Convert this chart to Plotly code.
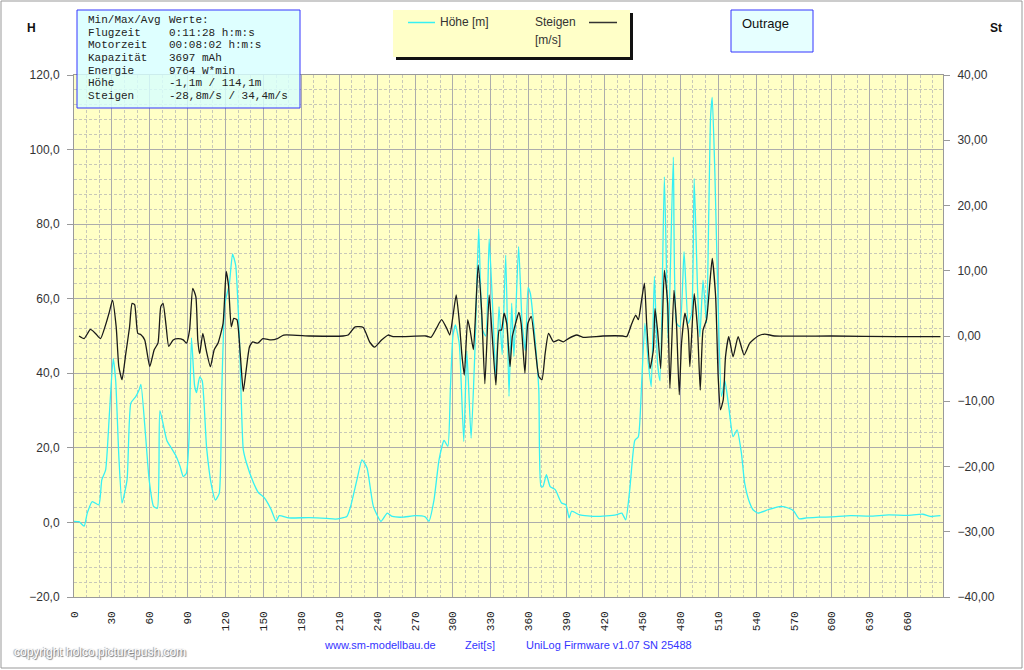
import plotly.graph_objects as go

# ---------------- data ----------------
hoehe_t = [0, 4, 8, 10.5, 14.5, 19.7, 22, 25, 28, 31, 33, 35.5, 38, 42, 45, 49, 51.5, 53, 56.5, 59.5,
           63, 66, 68, 73.5, 77, 80.5, 84, 86.5, 89, 91, 93, 95.5, 97, 99.5, 101.5, 105, 109, 112, 115, 117,
           119.5, 123, 125.5, 128, 131, 134, 136.5, 142, 146, 149.5, 152, 156, 160, 162.5, 170, 186, 200, 207,
           216, 219, 224, 228, 232, 237, 243, 248, 252, 260, 270, 278, 281, 285, 289, 293, 296, 298, 300, 302,
           305, 308.6, 311, 314.4, 317.5, 320.4, 323.5, 326, 328.7, 331.3, 334, 336.5, 339, 341.8, 344.4, 346.5,
           348.3, 352, 354.8, 357.4, 359.5, 361.3, 365.3, 368, 369.7, 371.3, 374, 377, 381, 386, 389.5, 392, 394,
           400.5, 413.5, 429, 433.7, 436.8, 440, 444, 446.8, 449.5, 452, 454.7, 457, 459.5, 462, 464, 467.4,
           470.5, 474.5, 477, 479.7, 483, 486.3, 489, 491, 493.7, 495.5, 498, 500.8, 502.6, 504, 505.3, 507.4,
           510, 512.6, 515.3, 518.4, 521.8, 525, 528.4, 531, 535, 537.6, 541.6, 549.5, 559.5, 566, 570, 574,
           580, 590, 600, 615, 630, 645, 660, 672, 678, 686]
hoehe_v = [0.3, 0.2, -1.0, 2.5, 5.6, 4.7, 11.4, 14, 29, 44, 38, 17.7, 5.2, 11.4, 32, 33.8, 35.5, 37, 24, 11.4,
           4.3, 3.8, 30, 22, 20, 18, 15, 12.3, 13.2, 22, 49.5, 36.6, 34.8, 39, 38, 20, 9.6, 6, 7.8, 35.5,
           58.7, 64, 72, 69, 49, 19.6, 16, 10.7, 8, 7, 6, 3.5, 0.3, 1.8, 1.2, 1.3, 1.1, 0.9,
           1.6, 4.3, 11.4, 16.8, 14.6, 4.3, 0.3, 2.5, 1.6, 1.4, 1.8, 1.5, 0.3, 6, 16.8, 22, 20.4, 36, 50, 53,
           48, 21.7, 46, 22.6, 47, 78.8, 51.6, 50, 76, 58.8, 39, 57.9, 45, 71.7, 33.8, 58.8,
           44.5, 74, 53.4, 46, 63, 61.4, 48, 35.5, 9.6, 9.6, 12.8, 9.6, 8.8, 5.2, 4.7, 1.2, 3,
           2, 1.6, 2, 2.5, 0.7, 8.8, 22, 23, 38, 53.4, 42.7, 36.4, 66, 42.7, 38, 92.7,
           48, 98, 53.4, 52.5, 72.6, 53.4, 56, 92.2, 62.3, 49.8, 65, 53.4, 83.8, 108.8, 114, 93.6,
           57.9, 33.8, 38, 31, 23, 24.8, 18.6, 10.5, 5.2, 3.4, 2.5, 3.4, 4.3, 3.8, 3.0, 1.0,
           1.2, 1.4, 1.5, 1.8, 1.7, 2.0, 1.9, 2.2, 1.6, 1.8]

steigen_t = [4, 8, 13, 17, 21, 25, 28, 30.5, 33.4, 35.5, 38, 41, 44, 46, 48, 50.5, 53, 56, 60, 63.5, 66.5,
             68.7, 70.5, 73, 75, 78.5, 82.5, 86.5, 89, 91.5, 94, 96.5, 98, 99.5, 102, 104.6, 108, 111, 114,
             118, 120.5, 122.4, 124.5, 126.5, 129, 131.6, 134, 136, 139, 141.5, 145.5, 149.5, 156, 161, 166,
             187, 213, 217, 222.6, 229, 234, 238, 243.5, 248.7, 252.6, 278.7, 282.6, 287, 291, 295, 297.5,
             300, 302.6, 305.2, 307, 309, 311.7, 313.6, 316.2, 318.3, 320, 322.7, 325.3, 328.7, 330.8, 334,
             336.6, 338.4, 340.5, 342.6, 345.2, 347, 349.6, 352.2, 354, 357, 359.3, 362, 365.3, 368, 370.5,
             373, 375.7, 379.6, 383.6, 387.5, 391.4, 398, 403, 418.8, 434.5, 437.6, 441.6, 444.7, 446.8, 449,
             451.6, 453.4, 456, 458.7, 460, 462, 464.5, 467.4, 470, 471.8, 475, 477, 479.2, 481, 483.7, 486.3,
             487.6, 491, 493.7, 495.8, 498, 500.8, 503.4, 505.3, 508, 510, 511.8, 514, 515.8, 518.4, 521.8,
             525.8, 530.5, 535, 541.6, 546.8, 554.7, 600, 650, 686]
steigen_v = [0.0, -0.4, 1.0, 0.4, -0.4, 1.7, 3.7, 5.5, 1.4, -4.7, -6.7, -2.7, 1.4, 5, 4.8, 0.4, 0.2, -0.6, -4.7, -2.1, -1.1,
             4.5, 5, 1.4, -1.6, -0.6, -0.4, -0.6, -1.1, 0.9, 7.3, 6, -0.6, -2.7, 0.4, -2.1, -4.7, -2.1, -1.1,
             1.9, 9.9, 7.6, 1.4, 2.7, 2.5, -2.7, -8.5, -5.7, -1.6, -0.9, -1.1, -0.4, -0.6, -0.4, 0.15,
             0, 0, 0.15, 1.4, 1.3, -0.9, -1.7, -0.6, 0.15, -0.1, 0, -0.2, 1.2, 2.5, 1.2, 0.15,
             3, 6.3, 1.9, -2.7, -6, 2.5, 0.9, -2.1, 5, 10.9, 4, -7.3, 6.3, 0.9, -7.5,
             0.9, 0.9, 3.5, 1.9, -4.7, -0.1, 1.9, 3.6, 1.9, -5.7, 1.9, 3, -2.1, -6.2, -6.7,
             -2.7, 0.4, -0.9, -0.6, -0.9, -0.4, 0.15, -0.2, 0, 0, -0.1, 1.9, 3.2, 2.5, 5,
             8.1, 1.9, -5, -2.1, 4.2, 0.9, -5, 10.1, 5, -8, 7, 1.9, -9, -1.1, 3.5, 0.9,
             -4.7, 6.5, 0.9, -8.3, 0.9, 2.5, 8.1, 11.9, 6, -6.2, -11.3, -9.8, -3.2, -0.1, -3.2,
             -0.1, -2.9, -1.1, 0, 0.3, 0, 0, -0.1, -0.1]

x_ticks = list(range(0, 661, 30))

info_labels = ["Min/Max/Avg", "Flugzeit", "Motorzeit", "Kapazität", "Energie", "Höhe", "Steigen"]
info_values = ["Werte:", "0:11:28 h:m:s", "00:08:02 h:m:s", "3697 mAh", "9764 W*min",
               "-1,1m / 114,1m", "-28,8m/s / 34,4m/s"]

# ---------------- layout helpers ----------------
L, R, T, B = 74, 943, 75, 597
W, HH = R - L, B - T


def px(x):
    return (x - L) / W


def py(y):
    return (B - y) / HH


fig = go.Figure()
fig.add_trace(go.Scatter(x=hoehe_t, y=hoehe_v, mode="lines", name="Höhe [m]",
                         line=dict(color="#36F0F4", width=1.3, shape="spline", smoothing=0.5),
                         yaxis="y", showlegend=False, hoverinfo="skip"))
fig.add_trace(go.Scatter(x=steigen_t, y=steigen_v, mode="lines", name="Steigen [m/s]",
                         line=dict(color="#1a1a1a", width=1.3, shape="spline", smoothing=0.5),
                         yaxis="y2", showlegend=False, hoverinfo="skip"))

shapes = []
annotations = []

# outer border
shapes.append(dict(type="rect", xref="paper", yref="paper", x0=px(1), x1=px(1022), y0=py(1), y1=py(668),
                   line=dict(color="#999999", width=1), layer="below"))

# info box
shapes.append(dict(type="rect", xref="paper", yref="paper", x0=px(77), x1=px(300), y0=py(10), y1=py(108),
                   fillcolor="rgba(215,255,255,0.82)", line=dict(color="#3535ff", width=1), layer="above"))
line_y = [20, 32.7, 45.3, 58, 70.5, 83, 95.7]
mono = dict(family="Liberation Mono, Courier New, monospace", size=11, color="#222")
for lab, val, yy in zip(info_labels, info_values, line_y):
    annotations.append(dict(xref="paper", yref="paper", x=px(86), y=py(yy), text=lab, showarrow=False,
                            xanchor="left", yanchor="middle", font=mono))
    annotations.append(dict(xref="paper", yref="paper", x=px(167), y=py(yy), text=val, showarrow=False,
                            xanchor="left", yanchor="middle", font=mono))

# legend box
shapes.append(dict(type="rect", xref="paper", yref="paper", x0=px(396), x1=px(633), y0=py(13), y1=py(60),
                   fillcolor="#111111", line=dict(width=0), layer="above"))
shapes.append(dict(type="rect", xref="paper", yref="paper", x0=px(393), x1=px(630), y0=py(10), y1=py(57),
                   fillcolor="#FFFFC8", line=dict(width=0), layer="above"))
shapes.append(dict(type="line", xref="paper", yref="paper", x0=px(408), x1=px(435), y0=py(22.5), y1=py(22.5),
                   line=dict(color="#36F0F4", width=1.5), layer="above"))
shapes.append(dict(type="line", xref="paper", yref="paper", x0=px(589), x1=px(617), y0=py(22.5), y1=py(22.5),
                   line=dict(color="#333333", width=1.5), layer="above"))
leg_font = dict(family="Liberation Sans, Arial, sans-serif", size=12, color="#333")
annotations.append(dict(xref="paper", yref="paper", x=px(438), y=py(22), text="Höhe [m]", showarrow=False,
                        xanchor="left", yanchor="middle", font=leg_font))
annotations.append(dict(xref="paper", yref="paper", x=px(533), y=py(22), text="Steigen", showarrow=False,
                        xanchor="left", yanchor="middle", font=leg_font))
annotations.append(dict(xref="paper", yref="paper", x=px(533), y=py(40), text="[m/s]", showarrow=False,
                        xanchor="left", yanchor="middle", font=leg_font))

# Outrage box
shapes.append(dict(type="rect", xref="paper", yref="paper", x0=px(731), x1=px(813), y0=py(10), y1=py(52),
                   fillcolor="#E6FFFF", line=dict(color="#3535ff", width=1), layer="above"))
annotations.append(dict(xref="paper", yref="paper", x=px(740), y=py(23), text="Outrage", showarrow=False,
                        xanchor="left", yanchor="middle",
                        font=dict(family="Liberation Sans, Arial, sans-serif", size=13, color="#111")))

# axis titles
annotations.append(dict(xref="paper", yref="paper", x=px(31), y=py(28), text="<b>H</b>", showarrow=False,
                        xanchor="center", yanchor="middle",
                        font=dict(family="Liberation Sans, Arial, sans-serif", size=12, color="#111")))
annotations.append(dict(xref="paper", yref="paper", x=px(996), y=py(28), text="<b>St</b>", showarrow=False,
                        xanchor="center", yanchor="middle",
                        font=dict(family="Liberation Sans, Arial, sans-serif", size=12, color="#111")))

# bottom texts
blue_font = dict(family="Liberation Sans, Arial, sans-serif", size=11, color="#3434ff")
for txt, xc in [("www.sm-modellbau.de", 380), ("Zeit[s]", 480), ("UniLog Firmware v1.07 SN 25488", 609)]:
    annotations.append(dict(xref="paper", yref="paper", x=px(xc), y=py(645), text=txt, showarrow=False,
                            xanchor="center", yanchor="middle", font=blue_font))

# copyright (white with grey outline)
annotations.append(dict(xref="paper", yref="paper", x=px(12), y=py(652), text="copyright holco.picturepush.com",
                        showarrow=False, xanchor="left", yanchor="middle",
                        font=dict(family="Liberation Sans, Arial, sans-serif", size=12, color="white",
                                  shadow="1px 1px 1px #777, -1px 0px 1px #999")))

grid_major = "#acacac"
grid_minor = "#c8c8b8"
tick_font = dict(family="Liberation Sans, Arial, sans-serif", size=12, color="#333")

fig.update_layout(
    width=1024, height=670,
    margin=dict(l=L, r=1024 - R, t=T, b=670 - B, pad=0),
    paper_bgcolor="white",
    plot_bgcolor="#FFFFC6",
    separators=",.",
    showlegend=False,
    shapes=shapes,
    annotations=annotations,
    xaxis=dict(range=[0, 688], tickvals=x_ticks, tickangle=-90,
               tickfont=dict(family="Liberation Mono, Courier New, monospace", size=11, color="#222"),
               showgrid=True, gridcolor=grid_major, gridwidth=1,
               minor=dict(dtick=10, tick0=0, showgrid=True, gridcolor=grid_minor, griddash="3px,2px", gridwidth=1),
               showline=True, linecolor="#9a9a9a", linewidth=1, mirror=True,
               ticks="outside", ticklen=9, tickcolor="rgba(0,0,0,0)", zeroline=False, fixedrange=True),
    yaxis=dict(range=[-20, 120], dtick=20, tick0=0, tickformat=".1f", tickfont=tick_font,
               showgrid=True, gridcolor=grid_major, gridwidth=1,
               minor=dict(dtick=4, tick0=0, showgrid=True, gridcolor=grid_minor, griddash="3px,2px", gridwidth=1),
               showline=True, linecolor="#9a9a9a", linewidth=1, ticklabelstandoff=5,
               ticks="outside", ticklen=6, tickcolor="#9a9a9a", zeroline=False, fixedrange=True),
    yaxis2=dict(range=[-40, 40], dtick=10, tick0=0, tickformat=".2f", tickfont=tick_font,
                overlaying="y", side="right", showgrid=False, zeroline=False,
                showline=True, linecolor="#9a9a9a", linewidth=1, ticklabelstandoff=5,
                ticks="outside", ticklen=6, tickcolor="#9a9a9a", fixedrange=True),
)

fig.write_html("out.html")
